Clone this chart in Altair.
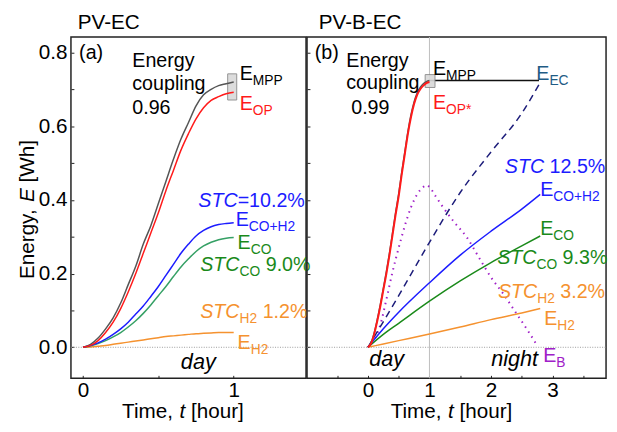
import altair as alt
import pandas as pd

FONT = "Liberation Sans"

# ---------------- data: panel (a) PV-EC ----------------
t_a = [0.0, 0.05, 0.1, 0.15, 0.2, 0.25, 0.3, 0.35, 0.4, 0.45, 0.5,
       0.55, 0.6, 0.65, 0.7, 0.75, 0.8, 0.85, 0.9, 0.95, 1.0]
mpp_a = [0, 0.008, 0.025, 0.05, 0.08, 0.12, 0.17, 0.22, 0.28, 0.33, 0.39,
         0.45, 0.51, 0.565, 0.61, 0.655, 0.685, 0.70, 0.71, 0.715, 0.72]
op_a = [0, 0.005, 0.018, 0.04, 0.068, 0.105, 0.15, 0.2, 0.255, 0.31, 0.365,
        0.425, 0.48, 0.535, 0.58, 0.62, 0.65, 0.67, 0.68, 0.688, 0.692]
coh2_a = [0, 0.005, 0.012, 0.022, 0.035, 0.05, 0.068, 0.09, 0.112, 0.138, 0.165,
          0.195, 0.225, 0.255, 0.28, 0.302, 0.317, 0.327, 0.333, 0.336, 0.338]
co_a = [0, 0.004, 0.01, 0.018, 0.028, 0.04, 0.055, 0.072, 0.092, 0.115, 0.14,
        0.165, 0.192, 0.218, 0.24, 0.26, 0.275, 0.285, 0.292, 0.296, 0.298]
h2_a = [0, 0.001, 0.003, 0.005, 0.008, 0.011, 0.014, 0.017, 0.02, 0.023, 0.026,
        0.029, 0.031, 0.033, 0.035, 0.037, 0.038, 0.039, 0.04, 0.04, 0.04]
box_a = {"x": 0.96, "x2": 1.02, "y": 0.671, "y2": 0.742}

# ---------------- data: panel (b) PV-B-EC ----------------
t_b = [0.0, 0.05, 0.1, 0.15, 0.2, 0.25, 0.3, 0.35, 0.4, 0.45, 0.5,
       0.55, 0.6, 0.65, 0.7, 0.75, 0.8, 0.85, 0.9, 0.95, 1.0]
op_b = [0, 0.01, 0.035, 0.07, 0.11, 0.155, 0.2, 0.25, 0.305, 0.36, 0.41,
        0.47, 0.525, 0.58, 0.625, 0.66, 0.685, 0.70, 0.71, 0.717, 0.72]
mpp_b = [0, 0.012, 0.038, 0.074, 0.115, 0.16, 0.206, 0.256, 0.311, 0.366, 0.417,
         0.476, 0.531, 0.586, 0.631, 0.666, 0.69, 0.705, 0.715, 0.721, 0.724]
t_ec = [1.0, 2.78]
ec_b = [0.724, 0.724]
t_dash = [0.0, 0.5, 1.0, 1.5, 2.0, 2.5, 2.78]
dash_b = [0.0, 0.14, 0.285, 0.42, 0.53, 0.635, 0.713]
t_batt = [0.0, 0.1, 0.2, 0.3, 0.4, 0.5, 0.6, 0.7, 0.8, 0.9, 0.95, 1.0,
          1.1, 1.2, 1.4, 1.6, 1.8, 2.0, 2.2, 2.4, 2.6, 2.75]
batt_b = [0.0, 0.02, 0.06, 0.13, 0.205, 0.27, 0.33, 0.38, 0.415, 0.435, 0.44, 0.435,
          0.41, 0.385, 0.34, 0.30, 0.245, 0.19, 0.145, 0.095, 0.045, 0.005]
t_prod = [0.0, 0.25, 0.5, 1.0, 1.5, 2.0, 2.5, 2.8]
coh2_b = [0.0, 0.05, 0.095, 0.175, 0.25, 0.315, 0.375, 0.415]
co_b = [0.0, 0.035, 0.065, 0.125, 0.18, 0.23, 0.275, 0.302]
h2_b = [0.0, 0.009, 0.018, 0.036, 0.055, 0.075, 0.093, 0.105]
box_b = {"x": 0.93, "x2": 1.09, "y": 0.705, "y2": 0.74}

# ---------------- layout / scales ----------------
XDOM = {"a": [-0.08, 1.48], "b": [-0.99, 3.87]}
YDOM = [-0.0842, 0.842]
W_A, W_B, H = 239, 304, 347

WID = {'E': .667, 'S': .667, 'T': .611, 'C': .722, 'M': .833, 'P': .667, 'O': .778,
       'H': .722, 'B': .667, '=': .584, '+': .584, '%': .889, '.': .278, ' ': .278,
       '*': .389, 'n': .556, 'e': .556, 'r': .333, 'g': .556, 'y': .5, ',': .278,
       '[': .278, ']': .278, 'W': .944, 'h': .556, 'i': .222, 'm': .833, 'o': .556,
       'u': .556, 't': .278, 'd': .556, 'a': .556}


def tw(s, size):
    return sum(WID.get(c, 0.556) for c in s) * size


AXC = dict(domain=False, grid=False, tickSize=3, offset=-3, tickColor="#222", tickWidth=1,
           labelFont=FONT, labelFontSize=21, labelColor="black", labelOverlap=False,
           labelFlush=False, title=None)
yticks = [round(0.1 * i, 1) for i in range(0, 9)]
xlab = "abs(datum.value % 1) < 0.01 ? format(datum.value, 'd') : ''"
YAX = {
    "a": alt.Axis(values=yticks, labelPadding=4,
                  labelExpr="round(datum.value*10) % 2 == 0 ? format(datum.value, '.1f') : ''", **AXC),
    "b": alt.Axis(values=yticks, labels=False, **AXC),
}
XAX = {
    "a": alt.Axis(values=[0, 0.5, 1.0], labelPadding=2, labelExpr=xlab, **AXC),
    "b": alt.Axis(values=[-0.5, 0, 0.5, 1, 1.5, 2, 2.5, 3, 3.5], labelPadding=2,
                  labelExpr=xlab, **AXC),
}


def xenc(field, panel):
    return alt.X(field, type="quantitative",
                 scale=alt.Scale(domain=XDOM[panel], nice=False, zero=False), axis=XAX[panel])


def yenc(field, panel):
    return alt.Y(field, type="quantitative",
                 scale=alt.Scale(domain=YDOM, nice=False, zero=False), axis=YAX[panel])


def line(t, v, panel, color, width=1.5, dash=None):
    kw = dict(color=color, strokeWidth=width, interpolate="monotone")
    if dash:
        kw["strokeDash"] = dash
    return alt.Chart(pd.DataFrame({"t": t, "E": v})).mark_line(**kw).encode(
        x=xenc("t", panel), y=yenc("E", panel))


def box(b, panel):
    return alt.Chart(pd.DataFrame([b])).mark_rect(
        fill="#d9d9d9", stroke="#888", strokeWidth=1, opacity=0.9).encode(
        x=xenc("x", panel), x2="x2", y=yenc("y", panel), y2="y2")


def split_lead(txt):
    n = len(txt) - len(txt.lstrip(" "))
    return txt[n:], n


def label(x, y, pieces, color, panel, size=20, align="left"):
    out = []
    off = 0.0
    for txt, kind in pieces:
        fs = 14 if kind == "s" else size
        body, nsp = split_lead(txt)
        off += tw(" " * nsp, fs)
        out.append(
            alt.Chart(pd.DataFrame({"x": [x], "y": [y]}))
            .mark_text(text=body, align=align, baseline="alphabetic", dx=off,
                       dy=5 if kind == "s" else 0, font=FONT, fontSize=fs,
                       fontStyle="italic" if kind == "i" else "normal", color=color)
            .encode(x=xenc("x", panel), y=yenc("y", panel)))
        off += tw(body, fs)
    return out


def px_text(xp, yp, pieces, size, color="black", angle=0):
    out = []
    off = 0.0
    for txt, kind in pieces:
        body, nsp = split_lead(txt)
        off += tw(" " * nsp, size)
        if angle:
            xx, yy = xp, yp - off
        else:
            xx, yy = xp + off, yp
        kw = dict(text=body, align="left", baseline="alphabetic", font=FONT, fontSize=size,
                  fontStyle="italic" if kind == "i" else "normal", color=color)
        if angle:
            kw["angle"] = angle
        out.append(alt.Chart(pd.DataFrame({"k": [0]})).mark_text(**kw).encode(
            x=alt.value(xx), y=alt.value(yy)))
        off += tw(body, size)
    return out


# ---------------- annotations (data coordinates) ----------------
BLUE, RED, GRAY = "#1c1cff", "#ff1a1a", "#555555"
GREEN_L, GREEN, ORANGE = "#35a065", "#1a8a1a", "#f5922f"
PURPLE, NAVY, TEAL = "#a020c8", "#1c1c7a", "#1f5c85"

ann_a = [
    (-0.026, 0.782, [("(a)", "r")], "black"),
    (0.327, 0.761, [("Energy", "r")], "black"),
    (0.327, 0.697, [("coupling", "r")], "black"),
    (0.327, 0.632, [("0.96", "r")], "black"),
    (1.04, 0.724, [("E", "r"), ("MPP", "s")], "black"),
    (1.04, 0.645, [("E", "r"), ("OP", "s")], RED),
    (0.765, 0.382, [("STC", "i"), ("=10.2%", "r")], BLUE),
    (1.013, 0.329, [("E", "r"), ("CO+H2", "s")], BLUE),
    (1.026, 0.266, [("E", "r"), ("CO", "s")], GREEN),
    (0.778, 0.208, [("STC", "i"), ("CO", "s"), (" 9.0%", "r")], GREEN),
    (0.778, 0.079, [("STC", "i"), ("H2", "s"), (" 1.2%", "r")], ORANGE),
    (1.026, -0.005, [("E", "r"), ("H2", "s")], ORANGE),
]
ann_b = [
    (-0.864, 0.782, [("(b)", "r")], "black"),
    (-0.352, 0.761, [("Energy", "r")], "black"),
    (-0.352, 0.700, [("coupling", "r")], "black"),
    (-0.272, 0.632, [("0.99", "r")], "black"),
    (1.056, 0.739, [("E", "r"), ("MPP", "s")], "black"),
    (1.056, 0.647, [("E", "r"), ("OP*", "s")], RED),
    (2.736, 0.726, [("E", "r"), ("EC", "s")], TEAL),
    (2.224, 0.474, [("STC", "i"), (" 12.5%", "r")], BLUE),
    (2.80, 0.410, [("E", "r"), ("CO+H2", "s")], BLUE),
    (2.80, 0.305, [("E", "r"), ("CO", "s")], GREEN),
    (2.10, 0.226, [("STC", "i"), ("CO", "s"), (" 9.3%", "r")], GREEN),
    (2.112, 0.134, [("STC", "i"), ("H2", "s"), (" 3.2%", "r")], ORANGE),
    (2.864, 0.061, [("E", "r"), ("H2", "s")], ORANGE),
    (2.848, -0.039, [("E", "r"), ("B", "s")], PURPLE),
]
day_night_a = [(0.765, -0.058, "day")]
day_night_b = [(0.304, -0.05, "day"), (2.384, -0.05, "night")]

# ---------------- panel (a) ----------------
layers_a = [
    alt.Chart(pd.DataFrame({"z": [0.0]})).mark_rule(
        color="#9a9a9a", strokeDash=[1, 1.5], strokeWidth=1).encode(
        y=yenc("z", "a"), x=alt.value(0), x2=alt.value(W_A)),
    box(box_a, "a"),
    line(t_a, h2_a, "a", ORANGE),
    line(t_a, co_a, "a", GREEN_L),
    line(t_a, coh2_a, "a", BLUE),
    line(t_a, mpp_a, "a", GRAY),
    line(t_a, op_a, "a", RED),
]
for x, y, p, c in ann_a:
    layers_a += label(x, y, p, c, "a")
for x, y, s in day_night_a:
    layers_a += label(x, y, [(s, "i")], "black", "a", size=22, align="center")
layers_a += px_text(7, -8, [("PV-EC", "r")], 21)
layers_a += px_text(52, H + 40, [("Time, ", "r"), ("t", "i"), (" [hour]", "r")], 21)
layers_a += px_text(-38, 246, [("Energy, ", "r"), ("E", "i"), (" [Wh]", "r")], 21, angle=270)

panel_a = alt.layer(*layers_a).properties(width=W_A, height=H)

# ---------------- panel (b) ----------------
layers_b = [
    alt.Chart(pd.DataFrame({"z": [0.0]})).mark_rule(
        color="#9a9a9a", strokeDash=[1, 1.5], strokeWidth=1).encode(
        y=yenc("z", "b"), x=alt.value(0), x2=alt.value(W_B)),
    alt.Chart(pd.DataFrame({"v": [1.0]})).mark_rule(color="#bdbdbd", strokeWidth=1).encode(
        x=xenc("v", "b"), y=alt.value(0), y2=alt.value(H)),
    line(t_batt, batt_b, "b", PURPLE, width=2, dash=[1.5, 4.5]),
    line(t_dash, dash_b, "b", NAVY, width=1.5, dash=[7, 5]),
    line(t_prod, h2_b, "b", ORANGE),
    line(t_prod, co_b, "b", GREEN),
    line(t_prod, coh2_b, "b", BLUE),
    line(t_ec, ec_b, "b", "#111111"),
    box(box_b, "b"),
    line(t_b, mpp_b, "b", GRAY, width=1.5),
    line(t_b, op_b, "b", RED, width=2),
]
for x, y, p, c in ann_b:
    layers_b += label(x, y, p, c, "b")
for x, y, s in day_night_b:
    layers_b += label(x, y, [(s, "i")], "black", "b", size=22, align="center")
layers_b += px_text(12, -8, [("PV-B-EC", "r")], 21)
layers_b += px_text(85, H + 40, [("Time, ", "r"), ("t", "i"), (" [hour]", "r")], 21)

panel_b = alt.layer(*layers_b).properties(width=W_B, height=H)

chart = alt.hconcat(panel_a, panel_b, spacing=1, bounds="flush").configure_view(
    stroke="#222222", strokeWidth=1.5
).properties(padding={"left": 8, "top": 0, "right": 0, "bottom": 0})

chart.save("out.html", embed_options={"renderer": "svg", "actions": False})
